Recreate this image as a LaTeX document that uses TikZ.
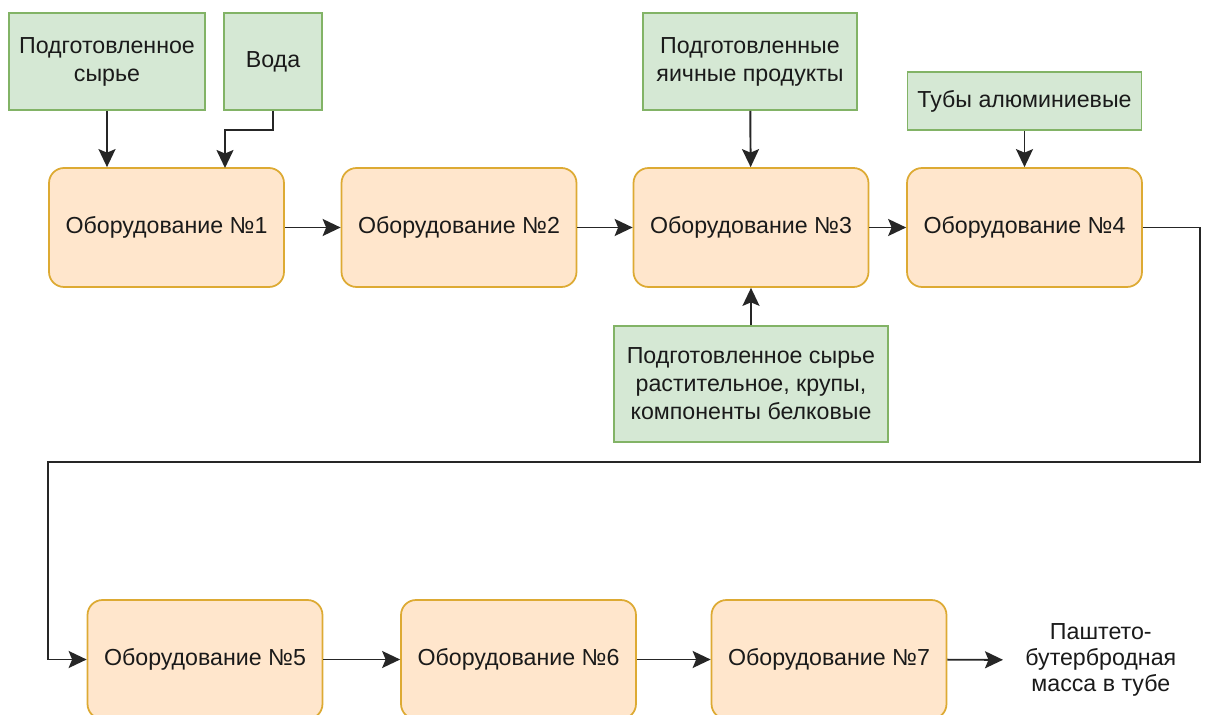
\documentclass[tikz,border=0pt]{standalone}
\usepackage{fontspec}
\setmainfont{Liberation Sans}
\usetikzlibrary{arrows.meta}
\definecolor{supfill}{HTML}{D5E8D4}
\definecolor{supline}{HTML}{82B366}
\definecolor{eqfill}{HTML}{FFE6CC}
\definecolor{eqline}{HTML}{DDAA33}
\definecolor{txt}{HTML}{1A1A1A}

\begin{document}
\begin{tikzpicture}[x=0.02cm, y=-0.02cm,
        every node/.style={font=\fontsize{13.2}{16}\selectfont, text=txt, align=center},
        eq/.style={draw=eqline, fill=eqfill, line width=1pt, rounded corners=0.3cm,
            minimum width=4.7cm, minimum height=2.38cm, inner sep=0pt},
        sup/.style={draw=supline, fill=supfill, line width=1pt, inner sep=0pt},
        arr/.style={draw=black!85, line width=1.1pt,
            -{Stealth[length=0.36cm, width=0.34cm, inset=0.07cm]}}]
        \clip (0,0) rectangle (1214,715);
        \fill[white] (0,0) rectangle (1214,715);

        \node (m1) [eq] at (166.5,227.5) {Оборудование №1};
        \node (m2) [eq] at (459,227.5) {Оборудование №2};
        \node (m3) [eq] at (751,227.5) {Оборудование №3};
        \node (m4) [eq] at (1024.5,227.5) {Оборудование №4};
        \node (m5) [eq] at (205,659.5) {Оборудование №5};
        \node (m6) [eq] at (518.5,659.5) {Оборудование №6};
        \node (m7) [eq] at (829,659.5) {Оборудование №7};

        \node (raw) [sup, minimum width=3.92cm, minimum height=1.94cm] at (107,61.5) {Подготовленное\\сырье};
        \node (water) [sup, minimum width=1.96cm, minimum height=1.94cm] at (273,61.5) {Вода};
        \node (egg) [sup, minimum width=4.28cm, minimum height=1.94cm] at (750,61.5) {Подготовленные\\яичные продукты};
        \node (tube) [sup, minimum width=4.68cm, minimum height=1.16cm] at (1024.5,101) {Тубы алюминиевые};
        \node (veg) [sup, minimum width=5.48cm, minimum height=2.32cm] at (751,384) {Подготовленное сырье\\растительное, крупы,\\компоненты белковые};
        \node (out) [anchor=west, inner xsep=0.44cm, inner ysep=0pt,
            font=\fontsize{13.2}{15}\selectfont] at (1003,660) {Паштето-\\бутербродная\\масса в тубе};

        \coordinate (w1) at (225,168);
        \coordinate (r) at (1200,462);
        \coordinate (l) at (48,462);

        \draw[arr] (raw) -- (raw |- m1.north);
        \draw[arr] (water.south) -- ++(0,19) -| (w1);
        \draw[arr] (m1) -- (m2);
        \draw[arr] (m2) -- (m3);
        \draw[arr] (m3) -- (m4);
        \draw[arr] (egg) -- (m3);
        \draw[arr] (veg) -- (m3);
        \draw[arr] (tube) -- (m4);
        \draw[arr] (m4.east) -| (r) -- (l) |- (m5.west);
        \draw[arr] (m5) -- (m6);
        \draw[arr] (m6) -- (m7);
        \draw[arr] (m7) -- (out);
    \end{tikzpicture}
\end{document}
